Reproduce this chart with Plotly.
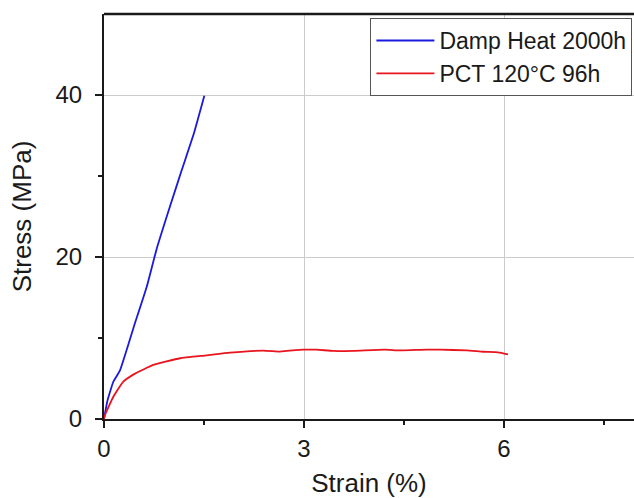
import plotly.graph_objects as go

# Data
dh_strain = [0.0, 0.05, 0.14, 0.24, 0.465, 0.64, 0.79, 1.0, 1.165, 1.35, 1.505]
dh_stress = [0.0, 2.2, 4.6, 6.0, 11.85, 16.3, 21.0, 26.5, 30.7, 35.3, 39.9]

pct_strain = [0.0, 0.015, 0.14, 0.29, 0.465, 0.74, 1.14, 1.54, 1.89, 2.39, 2.64, 2.74,
              2.99, 3.19, 3.44, 3.74, 4.21, 4.44, 4.84, 5.04, 5.44, 5.69, 5.91, 6.06]
pct_stress = [0.0, 0.5, 2.75, 4.6, 5.6, 6.67, 7.5, 7.86, 8.2, 8.44, 8.32, 8.42,
              8.56, 8.56, 8.4, 8.42, 8.56, 8.46, 8.56, 8.56, 8.46, 8.3, 8.23, 7.98]

x_ticks = [0, 3, 6]
y_ticks = [0, 20, 40]

FONT = "Liberation Sans, Arial, sans-serif"

fig = go.Figure()
fig.add_trace(go.Scatter(x=dh_strain, y=dh_stress, mode="lines", name="Damp Heat 2000h",
                         line=dict(color="#1a1adf", width=1.8, shape="spline", smoothing=0.4)))
fig.add_trace(go.Scatter(x=pct_strain, y=pct_stress, mode="lines", name="PCT 120°C 96h",
                         line=dict(color="#e8141e", width=1.8, shape="spline", smoothing=0.4)))

fig.update_layout(
    width=634, height=498,
    paper_bgcolor="white", plot_bgcolor="white",
    margin=dict(l=104, r=0, t=14, b=79),
    font=dict(family=FONT, color="#1a1a1a"),
    legend=dict(x=0.997, y=0.99, xanchor="right", yanchor="top",
                bgcolor="white", bordercolor="#555555", borderwidth=1,
                font=dict(size=23, family=FONT, color="#1a1a1a"),
                itemwidth=58, tracegroupgap=0),
    showlegend=True,
)

fig.update_xaxes(
    range=[0, 7.95], tickvals=x_ticks, ticktext=[str(v) for v in x_ticks],
    showgrid=True, gridcolor="#cccccc", gridwidth=1,
    showline=True, linecolor="#1a1a1a", linewidth=2,
    ticks="outside", ticklen=7, tickwidth=2, tickcolor="#1a1a1a",
    minor=dict(tickvals=[1.5, 4.5, 7.5], ticks="outside", ticklen=4, tickwidth=2,
               tickcolor="#1a1a1a", showgrid=False),
    tickfont=dict(size=24), zeroline=False,
    title=dict(text="Strain (%)", font=dict(size=26), standoff=15),
)
fig.update_yaxes(
    range=[0, 50], tickvals=y_ticks, ticktext=[str(v) for v in y_ticks],
    showgrid=True, gridcolor="#cccccc", gridwidth=1,
    showline=True, linecolor="#1a1a1a", linewidth=2,
    ticks="outside", ticklen=7, tickwidth=2, tickcolor="#1a1a1a",
    minor=dict(tickvals=[10, 30], ticks="outside", ticklen=4, tickwidth=2,
               tickcolor="#1a1a1a", showgrid=False),
    tickfont=dict(size=24), ticklabelstandoff=8, zeroline=False,
    title=dict(text="Stress (MPa)", font=dict(size=26), standoff=16),
)

fig.add_shape(type="line", xref="paper", yref="paper", x0=0, x1=1, y0=1, y1=1,
              line=dict(color="#1a1a1a", width=2.5))

fig.write_html("out.html", config={"displayModeBar": False},
               post_script="document.body.style.margin='0';")
